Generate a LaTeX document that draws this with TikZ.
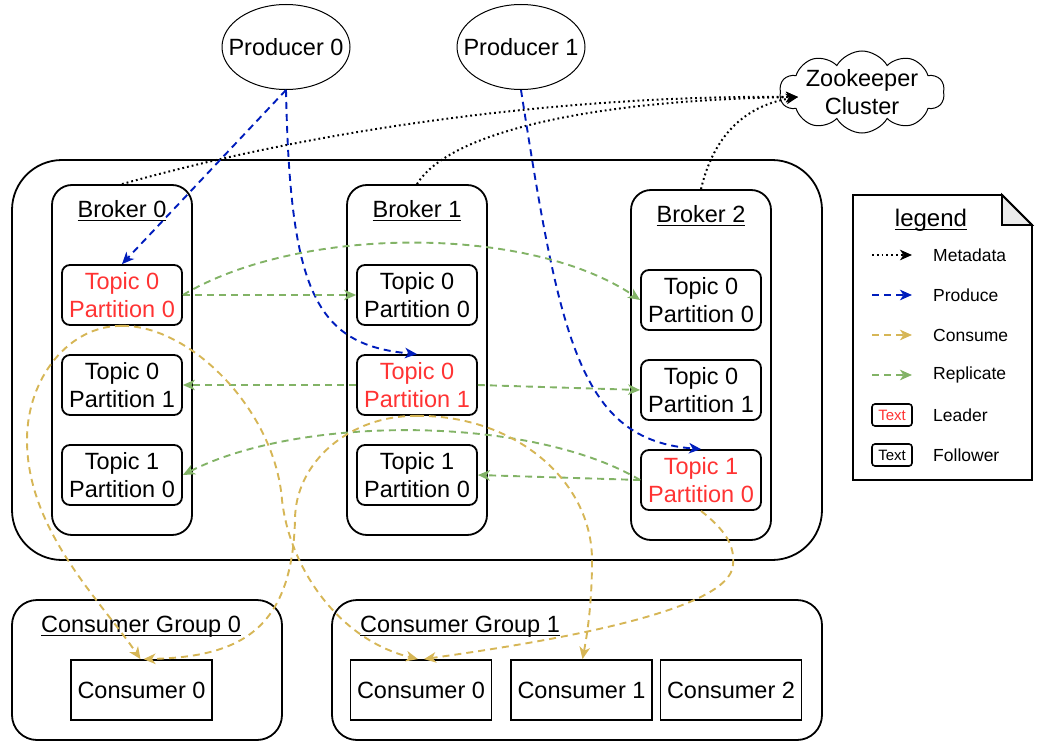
\documentclass[tikz,border=0pt]{standalone}
\usepackage{fontspec}
\setmainfont{Liberation Sans}
\newcommand{\myul}[1]{\setbox0\hbox{#1}\rlap{\rule[-4.2pt]{\wd0}{1.4pt}}\box0}
\usetikzlibrary{arrows.meta,shapes.symbols,shapes.geometric}
\definecolor{kred}{HTML}{FF3333}
\definecolor{kblue}{HTML}{001DBC}
\definecolor{kyel}{HTML}{D6B656}
\definecolor{kgreen}{HTML}{82B366}
\definecolor{kfold}{HTML}{EBEBEB}
\begin{document}
\begin{tikzpicture}[x=1pt,y=-1pt,
  every node/.style={font=\fontsize{23.5}{28}\selectfont, inner sep=0pt},
  clusterbox/.style={draw, line width=1.8pt, rounded corners=50pt, minimum width=810pt, minimum height=400pt},
  brokerbox/.style={draw, line width=1.8pt, rounded corners=20pt, minimum width=140pt, minimum height=350pt},
  partbox/.style={draw, line width=1.8pt, rounded corners=8pt, minimum width=120pt, minimum height=60pt, align=center},
  leaderbox/.style={partbox, text=kred},
  groupbox/.style={draw, line width=1.8pt, rounded corners=25pt},
  consbox/.style={draw, line width=1.8pt, minimum width=141pt, minimum height=60pt},
  prodell/.style={ellipse, draw, line width=1pt, minimum width=128pt, minimum height=85pt},
  tip/.style={-{Stealth[length=12pt,width=10.5pt,inset=3.5pt]}},
  metaline/.style={tip, line width=2pt, dash pattern=on 1.8pt off 3pt},
  prodline/.style={tip, kblue, line width=1.9pt, dash pattern=on 7pt off 5pt},
  consline/.style={tip, kyel, line width=1.9pt, dash pattern=on 7pt off 5pt},
  replline/.style={tip, kgreen, line width=1.9pt, dash pattern=on 7pt off 5pt},
  legtext/.style={font=\fontsize{17.5}{20}\selectfont, anchor=west},
  legbox/.style={draw, line width=1.6pt, rounded corners=3pt, minimum width=40pt, minimum height=22pt, font=\fontsize{15}{18}\selectfont}
]
\useasboundingbox (0,0) rectangle (1042,752);

% cluster and brokers
\node[clusterbox] (cluster) at (417,360) {};
\node[brokerbox] (b0) at (122,360) {};
\node[brokerbox] (b1) at (417,360) {};
\node[brokerbox] (b2) at (701,365) {};
\node[anchor=base] (b0lab) at (122,217) {\myul{Broker 0}};
\node[anchor=base] (b1lab) at (417,217) {\myul{Broker 1}};
\node[anchor=base] (b2lab) at (701,222) {\myul{Broker 2}};

% partitions
\node[leaderbox] (b0p0) at (122,295) {Topic 0\\Partition 0};
\node[partbox] (b0p1) at (122,385) {Topic 0\\Partition 1};
\node[partbox] (b0t1) at (122,475) {Topic 1\\Partition 0};
\node[partbox] (b1p0) at (417,295) {Topic 0\\Partition 0};
\node[leaderbox] (b1p1) at (417,385) {Topic 0\\Partition 1};
\node[partbox] (b1t1) at (417,475) {Topic 1\\Partition 0};
\node[partbox] (b2p0) at (701,300) {Topic 0\\Partition 0};
\node[partbox] (b2p1) at (701,390) {Topic 0\\Partition 1};
\node[leaderbox] (b2t1) at (701,480) {Topic 1\\Partition 0};

% producers and zookeeper
\node[prodell, label=center:Producer 0] (p0) at (286,47) {};
\node[prodell, label=center:Producer 1] (p1) at (521,47) {};
\node[cloud, draw, line width=1pt, cloud puffs=10, cloud puff arc=120, minimum width=165pt, minimum height=82pt, cloud ignores aspect,
      label={[align=center]center:Zookeeper\\Cluster}] (zk) at (862,92) {};
\coordinate (zkin) at (798,97);

% consumer groups
\node[groupbox, minimum width=270pt, minimum height=140pt] (cg0) at (147,670) {};
\node[groupbox, minimum width=490pt, minimum height=140pt] (cg1) at (577,670) {};
\node[anchor=base] (cg0lab) at (141,632) {\myul{Consumer Group 0}};
\node[anchor=base] (cg1lab) at (460,632) {\myul{Consumer Group 1}};
\node[consbox] (c00) at (141.5,690) {Consumer 0};
\node[consbox] (c10) at (421,690) {Consumer 0};
\node[consbox] (c11) at (581.5,690) {Consumer 1};
\node[consbox] (c12) at (731,690) {Consumer 2};

% legend
\draw[line width=1.8pt] (853,195) -- (1002,195) -- (1032,225) -- (1032,480) -- (853,480) -- cycle;
\filldraw[fill=kfold, line width=1.8pt] (1002,195) -- (1002,225) -- (1032,225) -- cycle;
\node[anchor=base, font=\fontsize{24}{28}\selectfont] (legtitle) at (931,226) {\myul{legend}};
\coordinate (lm1) at (872,255); \coordinate (lm2) at (912,255);
\coordinate (lp1) at (872,295); \coordinate (lp2) at (912,295);
\coordinate (lc1) at (872,335); \coordinate (lc2) at (912,335);
\coordinate (lr1) at (872,375); \coordinate (lr2) at (912,375);
\draw[metaline] (lm1) -- (lm2);
\draw[prodline] (lp1) -- (lp2);
\draw[consline] (lc1) -- (lc2);
\draw[replline] (lr1) -- (lr2);
\node[legtext] (lmt) at (933,255) {Metadata};
\node[legtext] (lpt) at (933,295) {Produce};
\node[legtext] (lct) at (933,335) {Consume};
\node[legtext] (lrt) at (933,375) {Replicate};
\node[legbox, text=kred] (lbl) at (892,415) {Text};
\node[legbox] (lbf) at (892,455) {Text};
\node[legtext] (llt) at (933,415) {Leader};
\node[legtext] (lft) at (933,455) {Follower};

% metadata
\draw[metaline] (b0.north) .. controls (350,120) and (600,95) .. (zkin);
\draw[metaline] (b1.north) .. controls (450,130) and (600,100) .. (zkin);
\draw[metaline] (b2.north) .. controls (715,130) and (750,105) .. (zkin);

% produce
\draw[prodline] (p0.south) -- (b0p0.north);
\draw[prodline] (p0.south) .. controls (290,290) and (315,345) .. (b1p1.north);
\draw[prodline] (p1.south) .. controls (560,340) and (580,440) .. (b2t1.north);

% replicate
\draw[replline] (b0p0.east) -- (b1p0.west);
\draw[replline] (b0p0.east) .. controls (300,225) and (530,225) .. (b2p0.west);
\draw[replline] (b1p1.west) -- (b0p1.east);
\draw[replline] (b1p1.east) -- (b2p1.west);
\draw[replline] (b2t1.west) -- (b1t1.east);
\draw[replline] (b2t1.west) .. controls (530,415) and (300,415) .. (b0t1.east);

% consume
\draw[consline] (b0p0.south) .. controls (70,325) and (27,377) .. (27,440) .. controls (27,530) and (100,600) .. ([xshift=-1pt]c00.north);
\draw[consline] (b0p0.south) .. controls (190,325) and (275,410) .. (282,500) .. controls (290,570) and (340,640) .. ([xshift=-3pt]c10.north);
\draw[consline] (b1p1.south) .. controls (350,415) and (295,462) .. (295,520) .. controls (292,630) and (240,657) .. ([xshift=2pt]c00.north);
\draw[consline] (b1p1.south) .. controls (514,415) and (592,480) .. (592,560) .. controls (592,600) and (588,630) .. ([xshift=1pt]c11.north);
\draw[consline] (b2t1.south) .. controls (725,530) and (735,545) .. (733,565) .. controls (730,610) and (560,640) .. ([xshift=3pt]c10.north);
\end{tikzpicture}
\end{document}
